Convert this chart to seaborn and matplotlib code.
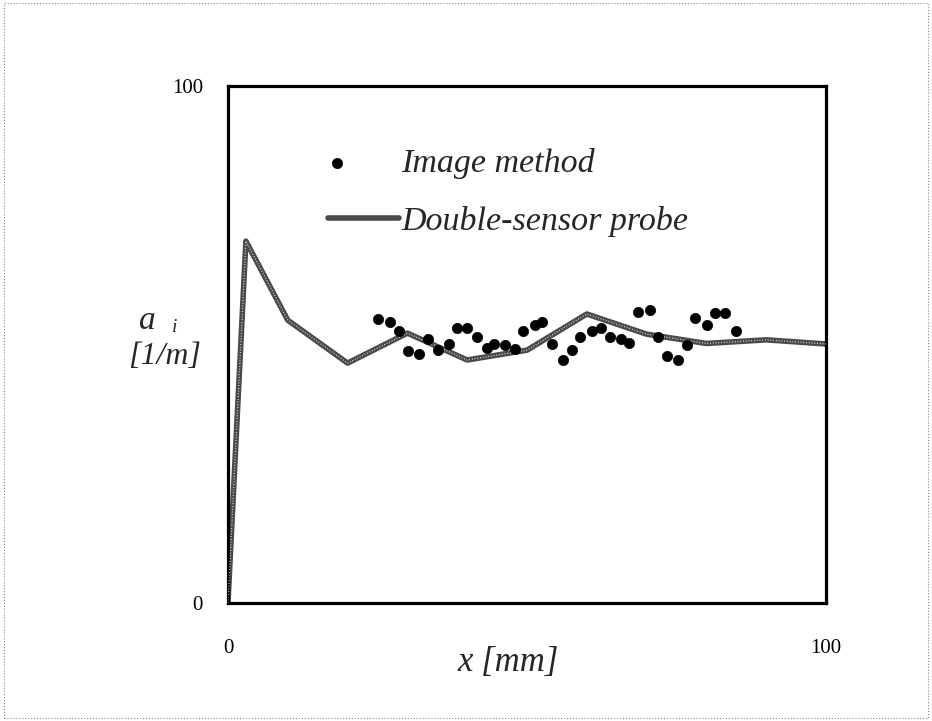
import matplotlib
matplotlib.use("Agg")
import matplotlib.pyplot as plt
import seaborn as sns
import pandas as pd
from matplotlib.patches import Rectangle
from matplotlib.legend_handler import HandlerPathCollection

# Double-sensor probe (line)
probe_x = [0, 3.0, 10.0, 20.0, 30.0, 40.0, 50.0, 60.0, 70.0, 80.0, 90.0, 100.0]
probe_y = [0, 70.0, 54.7, 46.4, 52.2, 47.0, 48.9, 55.9, 52.0, 50.2, 50.9, 50.1]

# Image method (points)
img_x = [25.1, 27.1, 28.6, 30.1, 31.9, 33.4, 35.1, 37.0, 38.3, 40.0,
         41.6, 43.3, 44.5, 46.3, 48.0, 49.3, 51.3, 52.5, 54.2, 56.0,
         57.5, 58.9, 60.9, 62.4, 63.9, 65.7, 67.1, 68.6, 70.6, 71.9,
         73.4, 75.3, 76.8, 78.1, 80.1, 81.4, 83.1, 84.9]
img_y = [54.9, 54.4, 52.6, 48.7, 48.2, 51.1, 48.9, 50.1, 53.2, 53.2,
         51.5, 49.3, 50.1, 49.9, 49.1, 52.6, 53.8, 54.4, 50.1, 47.0,
         48.9, 51.5, 52.6, 53.2, 51.5, 51.1, 50.3, 56.3, 56.7, 51.5,
         47.8, 47.0, 49.9, 55.1, 53.8, 56.1, 56.1, 52.6]

tick_vals = [0, 20, 40, 60, 80, 100]
tick_labels = ["0", "", "", "", "", "100"]


class LeftScatter(HandlerPathCollection):
    def get_xdata(self, legend, xdescent, ydescent, width, height, fontsize):
        x = -xdescent + 0.13 * width
        return [x], [x]


sns.set_style("white")
plt.rcParams["font.family"] = ["Liberation Serif", "DejaVu Serif"]

fig = plt.figure(figsize=(9.32, 7.21), dpi=100)
ax = fig.add_axes([0.2446, 0.1637, 0.6417, 0.717])

df_probe = pd.DataFrame({"x": probe_x, "y": probe_y})
df_img = pd.DataFrame({"x": img_x, "y": img_y})

sns.lineplot(data=df_probe, x="x", y="y", ax=ax, color="#4a4a4a", lw=4.0,
             label="Double-sensor probe", sort=False, zorder=2)
ax.plot(probe_x, probe_y, color="white", lw=0.9, ls=(0, (0.6, 1.6)), zorder=3)
sns.scatterplot(data=df_img, x="x", y="y", ax=ax, color="black", s=55,
                edgecolor="black", linewidth=0.5, label="Image method", zorder=4)

ax.set_xlim(0, 100)
ax.set_ylim(0, 100)
ax.set_xticks(tick_vals)
ax.set_xticklabels(tick_labels)
ax.set_yticks(tick_vals)
ax.set_yticklabels(tick_labels)
ax.tick_params(axis="both", direction="in", length=5, width=2, labelsize=15,
               colors="black")
ax.tick_params(axis="y", pad=18)
ax.tick_params(axis="x", pad=26)
ax.set_xlabel("")
ax.set_ylabel("")
for sp in ax.spines.values():
    sp.set_linewidth(2.3)
    sp.set_color("black")
    sp.set_visible(True)

ax.text(0.468, -0.116, "x [mm]", transform=ax.transAxes, ha="center", va="center",
        fontsize=25, style="italic")
ax.text(-0.134, 0.545, "a", transform=ax.transAxes, ha="center", va="center",
        fontsize=24, style="italic")
ax.text(-0.089, 0.532, "i", transform=ax.transAxes, ha="center", va="center",
        fontsize=14, style="italic")
ax.text(-0.106, 0.476, "[1/m]", transform=ax.transAxes, ha="center", va="center",
        fontsize=23, style="italic")

h, l = ax.get_legend_handles_labels()
order = [l.index("Image method"), l.index("Double-sensor probe")]
leg = ax.legend([h[i] for i in order], [l[i] for i in order],
                loc="upper left", bbox_to_anchor=(0.167, 0.88), frameon=False,
                borderpad=0, borderaxespad=0, handlelength=2.1,
                handletextpad=0.05, labelspacing=0.8,
                handler_map={type(h[order[0]]): LeftScatter()},
                prop={"family": "Liberation Serif", "style": "italic", "size": 24.5})

fig.patches.append(Rectangle((0.004, 0.004), 0.992, 0.992, transform=fig.transFigure,
                             fill=False, ls=":", lw=0.8, ec="#888888"))

fig.savefig("out.png", dpi=100)
